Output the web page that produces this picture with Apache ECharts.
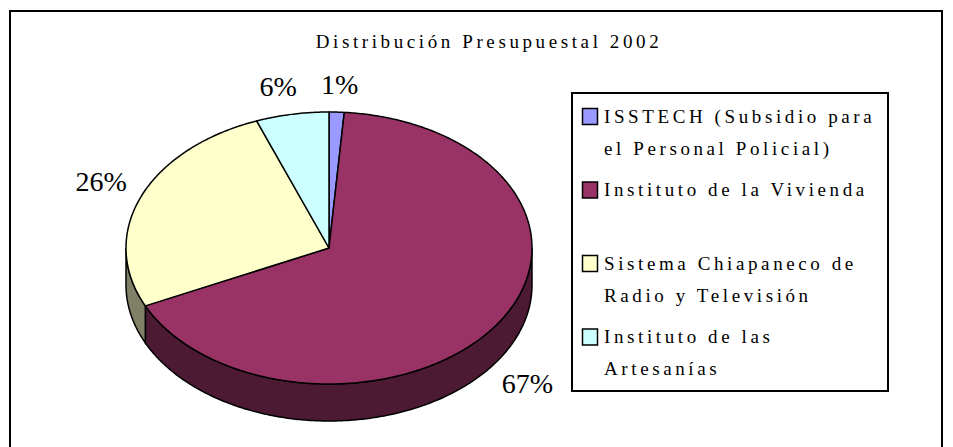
<!DOCTYPE html>
<html>
<head>
<meta charset="utf-8">
<title>Distribución Presupuestal 2002</title>
<script src="https://cdn.jsdelivr.net/npm/echarts@6/dist/echarts.min.js"></script>
<style>
  html, body { margin: 0; padding: 0; background: #fff; }
  #main { width: 953px; height: 447px; }
  /* titulo y leyenda llevan el espaciado ancho de Excel */
  #main text[style*="serif"] { letter-spacing: 3.6px; }
</style>
</head>
<body>
<div id="main"></div>
<script>
const categories = [
  'ISSTECH (Subsidio para el Personal Policial)',
  'Instituto de la Vivienda',
  'Sistema Chiapaneco de Radio y Televisión',
  'Instituto de las Artesanías'
]
// % del presupuesto
const values = [1.2, 66.8, 26.2, 5.8]
const legendLines = [
  'ISSTECH (Subsidio para\nel Personal Policial)',
  'Instituto de la Vivienda',
  'Sistema Chiapaneco de\nRadio y Televisión',
  'Instituto de las\nArtesanías'
]
const colors = ['#9999FF', '#993366', '#FFFFCC', '#CCFFFF']
const sideColors = ['#4D4D80', '#4D1A33', '#808066', '#668080']

const titleText = 'Distribución Presupuestal 2002'

// pastel 3D (elipse + grosor)
const CX = 329, CY = 248, RX = 203, RY = 136, DEPTH = 37
const SPACED_FONT = '19px "Liberation Serif", serif'
const PCT_FONT = '28px "Liberation Serif"'

const total = values.reduce((a, b) => a + b, 0)

const measureCtx = document.createElement('canvas').getContext('2d')
function textWidth(str, font) {
  measureCtx.font = font
  return measureCtx.measureText(str).width
}

function pt(a, dy) {
  return [CX + RX * Math.sin(a), CY - RY * Math.cos(a) + (dy || 0)]
}
function arc(a0, a1, dy) {
  const n = Math.max(2, Math.ceil((a1 - a0) / 0.01))
  const pts = []
  for (let k = 0; k <= n; k++) {
    pts.push(pt(a0 + (a1 - a0) * k / n, dy))
  }
  return pts
}

function renderSlice(params, api) {
  const i = params.dataIndex
  const v = api.value(0)
  let start = 0
  for (let k = 0; k < i; k++) start += values[k]
  const a0 = start / total * Math.PI * 2
  const a1 = (start + v) / total * Math.PI * 2
  const children = []

  // cara lateral: solo la mitad delantera
  const b0 = Math.max(a0, Math.PI / 2)
  const b1 = Math.min(a1, Math.PI * 3 / 2)
  if (b1 > b0) {
    const top = arc(b0, b1, 0)
    const bottom = arc(b0, b1, DEPTH).reverse()
    children.push({
      type: 'polygon',
      z2: 1,
      shape: { points: top.concat(bottom) },
      style: { fill: sideColors[i], stroke: '#000', lineWidth: 1.5 }
    })
  }
  children.push({
    type: 'polygon',
    z2: 2,
    shape: { points: [[CX, CY]].concat(arc(a0, a1, 0)) },
    style: { fill: colors[i], stroke: '#000', lineWidth: 1.5, lineJoin: 'round' }
  })

  // etiqueta de porcentaje fuera del pastel
  const mid = (a0 + a1) / 2
  const s = Math.sin(mid), c = Math.cos(mid)
  const gap = 15
  const px = CX + (RX + gap) * s
  const py = CY - (RY + gap) * c + (c < 0 ? DEPTH : 0)
  const label = Math.round(v) + '%'
  const w = textWidth(label, PCT_FONT)
  const h = 26
  const t = Math.min(
    Math.abs(s) > 1e-6 ? w / 2 / Math.abs(s) : Infinity,
    Math.abs(c) > 1e-6 ? h / 2 / Math.abs(c) : Infinity
  )
  // las etiquetas de arriba se separan un poco hacia los lados
  const nudge = c > 0.9 ? s * 50 : 0
  children.push({
    type: 'text',
    z2: 3,
    style: {
      text: label,
      x: px + t * s + nudge,
      y: py - t * c,
      font: PCT_FONT,
      fill: '#000',
      textAlign: 'center',
      textVerticalAlign: 'middle',
      align: 'center',
      verticalAlign: 'middle'
    }
  })
  return { type: 'group', children: children }
}

// leyenda dibujada a mano (marcador alineado a la primera linea)
const legendItems = []
categories.forEach((name, i) => {
  const cy = 116 + i * 73.5
  legendItems.push({
    type: 'rect',
    shape: { x: 582.5, y: cy - 7.5, width: 15, height: 16 },
    style: { fill: colors[i], stroke: '#000', lineWidth: 1.5 }
  })
  legendItems.push({
    type: 'text',
    style: {
      text: legendLines[i],
      x: 604,
      y: cy - 16,
      font: SPACED_FONT,
      lineHeight: 32,
      fill: '#000',
      textAlign: 'left',
      textVerticalAlign: 'top',
      align: 'left',
      verticalAlign: 'top'
    }
  })
})

const chart = echarts.init(document.getElementById('main'), null, { renderer: 'svg' })

chart.setOption({
  backgroundColor: '#fff',
  animation: false,
  graphic: [
    {
      type: 'rect',
      shape: { x: 10, y: 11, width: 932, height: 460 },
      style: { fill: 'none', stroke: '#000', lineWidth: 2 }
    },
    {
      type: 'text',
      style: {
        text: titleText,
        x: 489,
        y: 41,
        font: SPACED_FONT,
        fill: '#000',
        textAlign: 'center',
        textVerticalAlign: 'middle',
        align: 'center',
        verticalAlign: 'middle'
      }
    },
    {
      type: 'rect',
      shape: { x: 572, y: 93, width: 316, height: 298 },
      style: { fill: '#fff', stroke: '#000', lineWidth: 2 }
    }
  ].concat(legendItems),
  series: [
    {
      type: 'custom',
      coordinateSystem: 'none',
      silent: true,
      renderItem: renderSlice,
      data: values.map((v, i) => ({ name: categories[i], value: v }))
    }
  ]
})
</script>
</body>
</html>
